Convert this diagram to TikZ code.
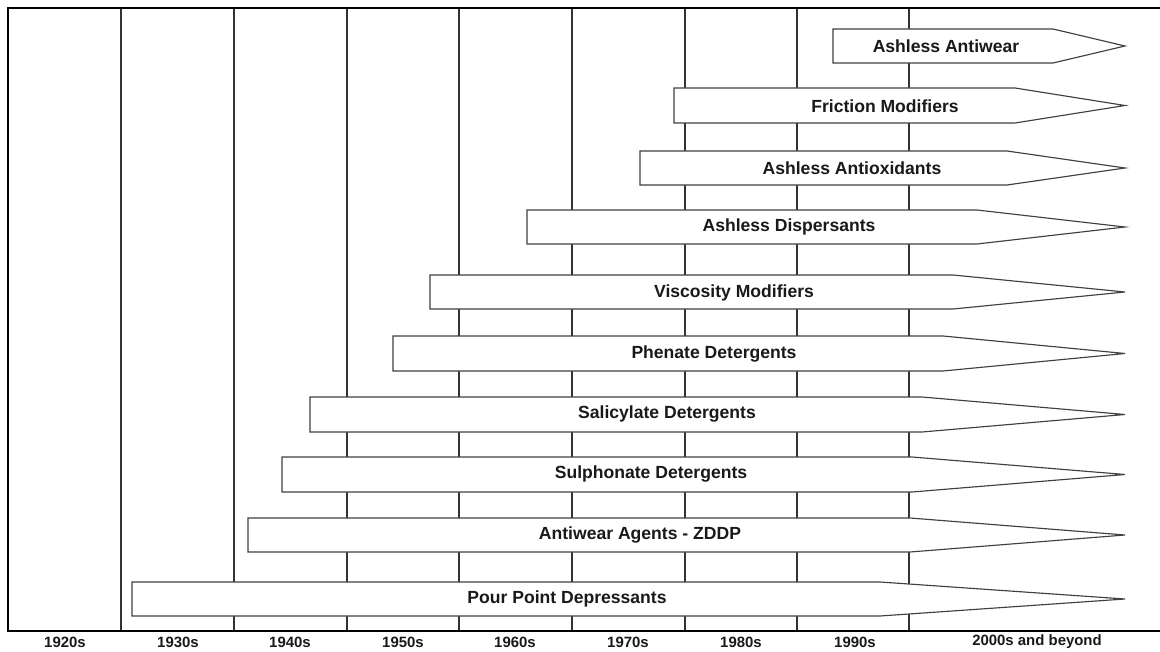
\documentclass[tikz,border=0pt]{standalone}
\usepackage{fontspec}
\setmainfont{Liberation Sans}
\usepackage{tikz}

\tikzset{
  bar/.style={draw=black!75, line width=0.65pt, fill=white, line join=miter},
  barlabel/.style={font=\bfseries\fontsize{10}{12}\selectfont, text=black!90, inner sep=0pt},
  decade/.style={font=\bfseries\fontsize{8.5}{10}\selectfont, text=black!90, inner sep=0pt},
  grid line/.style={draw=black!80, line width=0.85pt}
}

\begin{document}
\begin{tikzpicture}[x=0.02cm, y=-0.02cm]
      \useasboundingbox (0,0) rectangle (1160,652);

      % decade separators
      \draw[grid line] (121,8) -- (121,631);
      \draw[grid line] (234,8) -- (234,631);
      \draw[grid line] (347,8) -- (347,631);
      \draw[grid line] (459,8) -- (459,631);
      \draw[grid line] (572,8) -- (572,631);
      \draw[grid line] (685,8) -- (685,631);
      \draw[grid line] (797,8) -- (797,631);
      \draw[grid line] (909,8) -- (909,631);

      % frame
      \draw[line width=1.7pt] (1160,8) -- (8,8) -- (8,631) -- (1160,631);

      % additive bars
      \draw[bar] (833,29) -- (1053,29) -- (1125,46) -- (1053,63) -- (833,63) -- cycle;
      \node (antiwear) [barlabel] at (946,46) {Ashless Antiwear};

      \draw[bar] (674,88) -- (1015,88) -- (1125,105.5) -- (1015,123) -- (674,123) -- cycle;
      \node (friction) [barlabel] at (885,106) {Friction Modifiers};

      \draw[bar] (640,151) -- (1007,151) -- (1125,168) -- (1007,185) -- (640,185) -- cycle;
      \node (antiox) [barlabel] at (852,168) {Ashless Antioxidants};

      \draw[bar] (527,210) -- (977,210) -- (1125,227) -- (977,244) -- (527,244) -- cycle;
      \node (dispersants) [barlabel] at (789,227) {Ashless Dispersants};

      \draw[bar] (430,275) -- (953,275) -- (1125,292) -- (953,309) -- (430,309) -- cycle;
      \node (viscosity) [barlabel] at (734,293) {Viscosity Modifiers};

      \draw[bar] (393,336) -- (943,336) -- (1125,353.5) -- (943,371) -- (393,371) -- cycle;
      \node (phenate) [barlabel] at (714,354) {Phenate Detergents};

      \draw[bar] (310,397) -- (922,397) -- (1125,414.5) -- (922,432) -- (310,432) -- cycle;
      \node (salicylate) [barlabel] at (667,414) {Salicylate Detergents};

      \draw[bar] (282,457) -- (912,457) -- (1125,474.5) -- (912,492) -- (282,492) -- cycle;
      \node (sulphonate) [barlabel] at (651,474) {Sulphonate Detergents};

      \draw[bar] (248,518) -- (910,518) -- (1125,535) -- (910,552) -- (248,552) -- cycle;
      \node (zddp) [barlabel] at (640,535) {Antiwear Agents - ZDDP};

      \draw[bar] (132,582) -- (880,582) -- (1125,599) -- (880,616) -- (132,616) -- cycle;
      \node (pourpoint) [barlabel] at (567,599) {Pour Point Depressants};

      % decade labels
      \node (d1920) [decade] at (65,642) {1920s};
      \node (d1930) [decade] at (178,642) {1930s};
      \node (d1940) [decade] at (290,642) {1940s};
      \node (d1950) [decade] at (403,642) {1950s};
      \node (d1960) [decade] at (515,642) {1960s};
      \node (d1970) [decade] at (628,642) {1970s};
      \node (d1980) [decade] at (741,642) {1980s};
      \node (d1990) [decade] at (855,642) {1990s};
      \node (d2000) [decade] at (1037,642) {2000s and beyond};
    \end{tikzpicture}
\end{document}
